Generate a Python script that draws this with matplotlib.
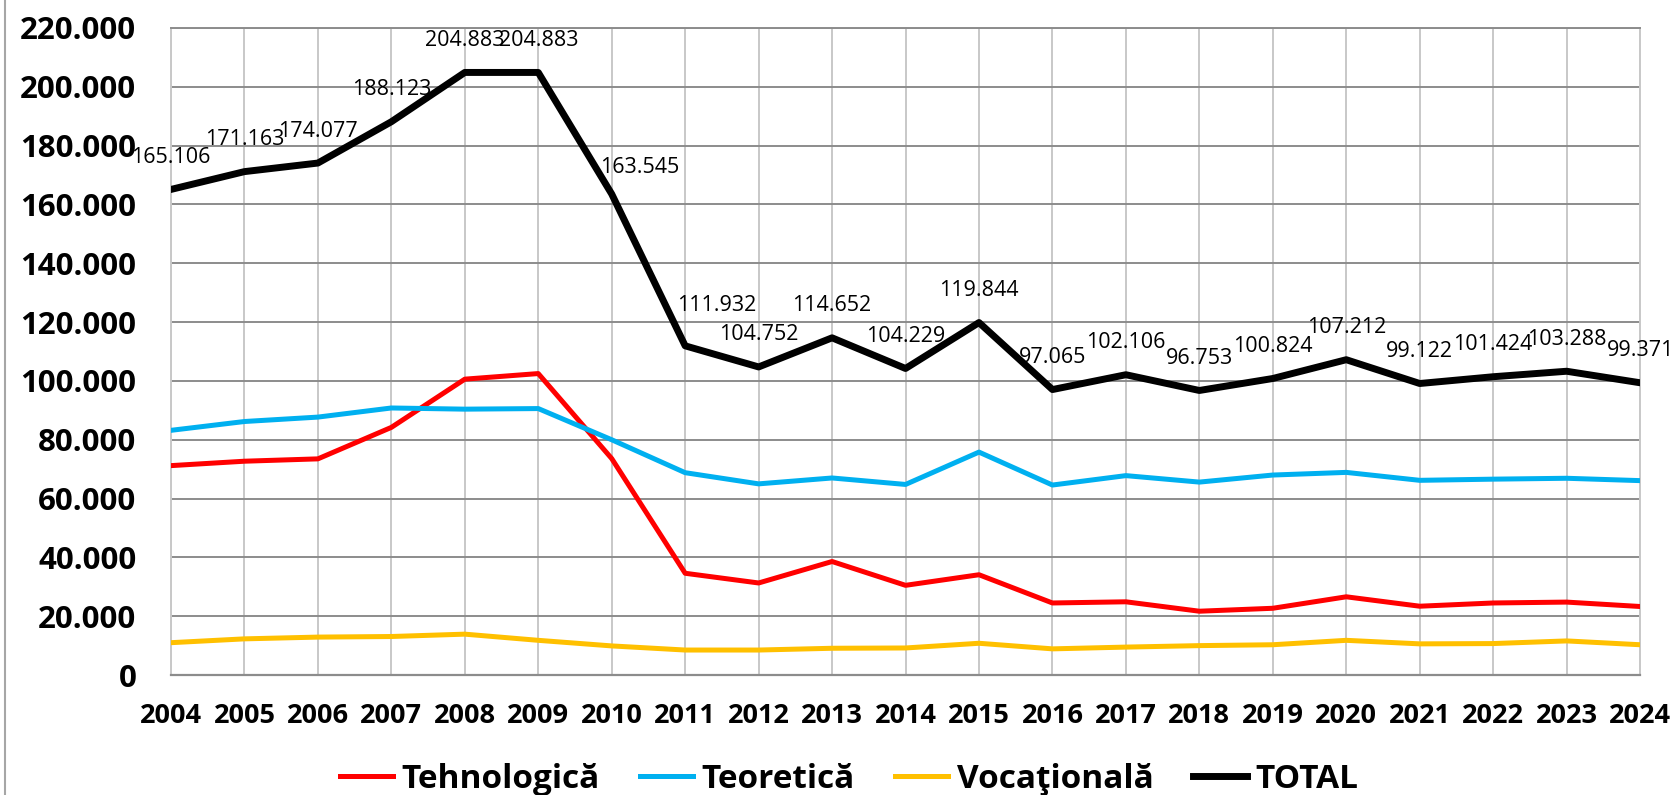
import matplotlib
matplotlib.use('Agg')
from matplotlib import pyplot as plt
from matplotlib.lines import Line2D

plt.rcParams['font.family'] = ['Open Sans', 'DejaVu Sans']

# values in thousands
years = list(range(2004, 2025))
tehnologica = [71.2, 72.7, 73.5, 84.2, 100.6, 102.5, 73.6, 34.6, 31.3, 38.6, 30.5,
               34.1, 24.5, 24.9, 21.7, 22.7, 26.6, 23.4, 24.5, 24.8, 23.3]
teoretica = [83.2, 86.2, 87.7, 90.8, 90.4, 90.6, 80.0, 68.8, 65.0, 67.0, 64.8,
             75.8, 64.6, 67.8, 65.6, 68.0, 68.9, 66.2, 66.6, 66.9, 66.1]
vocationala = [11.0, 12.3, 12.9, 13.1, 13.9, 11.8, 9.9, 8.5, 8.5, 9.1, 9.2,
               10.8, 8.9, 9.5, 10.0, 10.3, 11.8, 10.6, 10.7, 11.6, 10.3]
total = [165.106, 171.163, 174.077, 188.123, 204.883, 204.883, 163.545, 111.932,
         104.752, 114.652, 104.229, 119.844, 97.065, 102.106, 96.753, 100.824,
         107.212, 99.122, 101.424, 103.288, 99.371]
yticks = list(range(0, 221, 20))

# label offsets (points) for the TOTAL series, most sit straight above
label_off = {2010: (20, 19), 2011: (23, 29)}

fig = plt.figure(figsize=(16.78, 7.95), dpi=100)
ax = fig.add_axes([0.1019, 0.1509, 0.9774 - 0.1019, 0.9648 - 0.1509])

ax.plot(years, tehnologica, color='#ff0000', lw=3.6, label='Tehnologică', zorder=3)
ax.plot(years, teoretica, color='#00b0f0', lw=3.6, label='Teoretică', zorder=3)
ax.plot(years, vocationala, color='#ffc000', lw=3.6, label='Vocaţională', zorder=3)
ax.plot(years, total, color='black', lw=5, label='TOTAL', zorder=4)

for x, v in zip(years, total):
    dx, dy = label_off.get(x, (0, 23))
    ax.annotate('%.3f' % v, (x, v), xytext=(dx, dy), textcoords='offset points',
                ha='center', va='center', fontsize=15.5, color='black', zorder=5)

ax.set_xlim(2004, 2024)
ax.set_ylim(0, 220)
ax.set_xticks(years)
ax.set_xticklabels([str(y) for y in years], fontsize=19.5, fontweight='bold')
ax.set_yticks(yticks)
ax.set_yticklabels(['0' if v == 0 else '%d.000' % v for v in yticks],
                   fontsize=22.5, fontweight='bold')
ax.tick_params(axis='both', length=0)
ax.tick_params(axis='y', pad=25)
ax.tick_params(axis='x', pad=20)

ax.yaxis.grid(True, color='#8c8c8c', lw=1.4, zorder=1)
ax.xaxis.grid(True, color='#c8c8c8', lw=1.4, zorder=1)
ax.set_axisbelow(True)
for side in ['left', 'right', 'top']:
    ax.spines[side].set_color('#c8c8c8')
    ax.spines[side].set_linewidth(1.4)
ax.spines['top'].set_color('#8c8c8c')
ax.spines['bottom'].set_color('#8c8c8c')
ax.spines['bottom'].set_linewidth(1.6)

fig.legend(loc='center', bbox_to_anchor=(0.506, 0.02), ncol=4, frameon=False,
           prop={'size': 24, 'weight': 'bold'}, handlelength=1.6,
           handletextpad=0.25, columnspacing=1.2)

fig.add_artist(Line2D([0.003, 0.003], [0, 1], color='#a6a6a6', lw=1.5,
                      transform=fig.transFigure))

fig.savefig('out.png', dpi=100)
